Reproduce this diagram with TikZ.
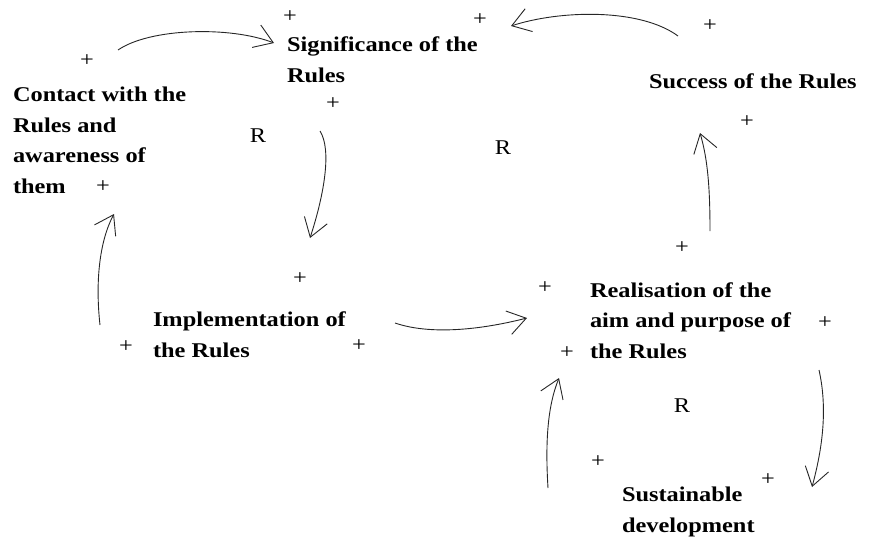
\documentclass[tikz,border=0pt]{standalone}
\usepackage{fontspec}
\setmainfont{Liberation Serif}[FakeStretch=1.16]
\usetikzlibrary{arrows.meta}
\begin{document}
\begin{tikzpicture}[x=1pt,y=-1pt,
  every node/.style={inner sep=0pt, outer sep=0pt},
  factor/.style={anchor=base west, align=left, font=\bfseries\fontsize{21}{30.5}\selectfont},
  polarity/.style={font=\fontsize{21}{24}\selectfont},
  loopmark/.style={font=\fontsize{21}{24}\selectfont},
  link/.style={line width=0.9pt, draw=black!85, -{Straight Barb[length=18pt,width=24pt,line width=0.9pt]}}]
  \useasboundingbox (0,0) rectangle (869,538);

  % factors of the loops (placed by the baseline of their last line)
  \node[factor] (sig) at (287,82) {Significance of the\\Rules};
  \node[factor] (con) at (13,193) {Contact with the\\Rules and\\awareness of\\them};
  \node[factor] (suc) at (649,88) {Success of the Rules};
  \node[factor] (imp) at (153,357) {Implementation of\\the Rules};
  \node[factor] (rea) at (590,358) {Realisation of the\\aim and purpose of\\the Rules};
  \node[factor] (sus) at (622,532) {Sustainable\\development};

  % reinforcing loop markers
  \node[loopmark] (r1) at (258,136) {R};
  \node[loopmark] (r2) at (503,148) {R};
  \node[loopmark] (r3) at (682,406) {R};

  % polarity signs
  \node[polarity] (p1) at (290,17) {+};
  \node[polarity] (p2) at (87,61) {+};
  \node[polarity] (p3) at (333,104) {+};
  \node[polarity] (p4) at (103,187) {+};
  \node[polarity] (p5) at (480,20) {+};
  \node[polarity] (p6) at (710,26) {+};
  \node[polarity] (p7) at (747,122) {+};
  \node[polarity] (p8) at (682,248) {+};
  \node[polarity] (p9) at (300,279) {+};
  \node[polarity] (p10) at (126,347) {+};
  \node[polarity] (p11) at (359,346) {+};
  \node[polarity] (p12) at (545,288) {+};
  \node[polarity] (p13) at (825,323) {+};
  \node[polarity] (p14) at (567,353) {+};
  \node[polarity] (p15) at (598,462) {+};
  \node[polarity] (p16) at (768,480) {+};

  % end points of the links
  \coordinate (a1) at (118,50);  \coordinate (b1) at (274,43);
  \coordinate (a2) at (320,131); \coordinate (b2) at (310,238);
  \coordinate (a3) at (100,325); \coordinate (b3) at (114,214);
  \coordinate (a4) at (395,323); \coordinate (b4) at (527,318);
  \coordinate (a5) at (548,488); \coordinate (b5) at (559,378);
  \coordinate (a6) at (819,370); \coordinate (b6) at (812,487);
  \coordinate (a7) at (710,231); \coordinate (b7) at (700,133);
  \coordinate (a8) at (678,36);  \coordinate (b8) at (511,26);

  % causal links
  \draw[link] (a1) .. controls (150,28) and (230,26) .. (b1);
  \draw[link] (a2) .. controls (332,150) and (324,195) .. (b2);
  \draw[link] (a3) .. controls (95,280) and (100,240) .. (b3);
  \draw[link] (a4) .. controls (430,335) and (480,330) .. (b4);
  \draw[link] (a5) .. controls (545,440) and (548,405) .. (b5);
  \draw[link] (a6) .. controls (828,410) and (822,450) .. (b6);
  \draw[link] (a7) .. controls (710,190) and (708,160) .. (b7);
  \draw[link] (a8) .. controls (640,8) and (560,10) .. (b8);
\end{tikzpicture}
\end{document}
